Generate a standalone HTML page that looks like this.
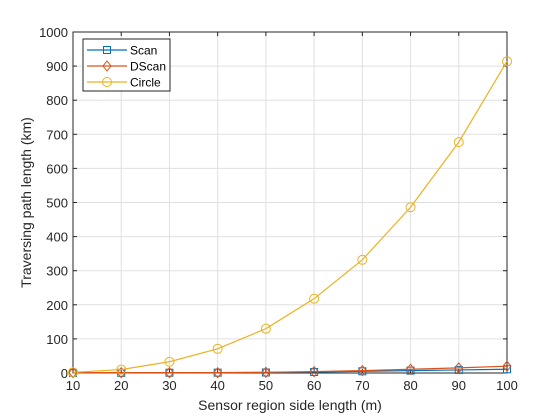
<!DOCTYPE html>
<html><head><meta charset="utf-8"><style>body{margin:0;background:#fff}svg{display:block;font-family:"Liberation Sans",sans-serif}</style></head>
<body>
<svg id="c" width="560" height="420"></svg>
<script>
const xCats=[10,20,30,40,50,60,70,80,90,100];
const scanVals=[0.3,0.5,0.8,1,1.5,3,5,7,9,11];
const dscanVals=[1,1,1,1,2,4,7,11,15,20];
const circleVals=[2,10,33,71,130,218,332,486,677,914];
const yTicks=[0,100,200,300,400,500,600,700,800,900,1000];
const L=73,R=507,T=32,B=373;
const sx=v=>L+(v-10)/90*(R-L), sy=v=>B-v/1000*(B-T);
const svg=document.getElementById('c');const NS='http://www.w3.org/2000/svg';
function mk(t,a,p){const e=document.createElementNS(NS,t);for(const k in a)e.setAttribute(k,a[k]);(p||svg).appendChild(e);return e;}
mk('rect',{x:L,y:T,width:R-L,height:B-T,fill:'#fff'});
xCats.forEach(v=>{const l=mk('line',{x1:sx(v),x2:sx(v),y1:T,y2:B,stroke:'#e0e0e0'});
const t=mk('text',{x:sx(v),y:B+17,'text-anchor':'middle','font-size':13,fill:'#262626'});t.textContent=v;
mk('line',{x1:sx(v),x2:sx(v),y1:B,y2:B-4,stroke:'#262626'});mk('line',{x1:sx(v),x2:sx(v),y1:T,y2:T+4,stroke:'#262626'});});
yTicks.forEach(v=>{const l=mk('line',{x1:L,x2:R,y1:sy(v),y2:sy(v),stroke:'#e0e0e0'});
const t=mk('text',{x:L-5,y:sy(v)+5,'text-anchor':'end','font-size':13,fill:'#262626'});t.textContent=v;
mk('line',{x1:L,x2:L+4,y1:sy(v),y2:sy(v),stroke:'#262626'});mk('line',{x1:R,x2:R-4,y1:sy(v),y2:sy(v),stroke:'#262626'});});
const box=mk('rect',{x:L,y:T,width:R-L,height:B-T,fill:'none',stroke:'#262626'});
function marker(type,x,y,c,g){if(type==='s')return mk('rect',{x:x-3.5,y:y-3.5,width:7,height:7,fill:'none',stroke:c},g);
if(type==='d')return mk('polygon',{points:`${x},${y-5} ${x+4},${y} ${x},${y+5} ${x-4},${y}`,fill:'none',stroke:c},g);
return mk('circle',{cx:x,cy:y,r:4.5,fill:'none',stroke:c},g);}
const series=[['scan',scanVals,'#0072bd','s'],['dscan',dscanVals,'#d95319','d'],['circle',circleVals,'#edb120','o']];
series.forEach(([n,vals,c,m])=>{const g=mk('g',{});
mk('polyline',{points:vals.map((v,i)=>sx(xCats[i])+','+sy(v)).join(' '),fill:'none',stroke:c,'stroke-width':1.2},g);
vals.forEach((v,i)=>{const e=marker(m,sx(xCats[i]),sy(v),c,g);});});
const lg=mk('g',{});
mk('rect',{x:83,y:39,width:87,height:52,fill:'#fff',stroke:'#262626'},lg);
[['Scan','#0072bd','s'],['DScan','#d95319','d'],['Circle','#edb120','o']].forEach(([t,c,m],i)=>{const y=50+i*16;
mk('line',{x1:87,x2:127,y1:y,y2:y,stroke:c,'stroke-width':1.2},lg);marker(m,107,y,c,lg);
const tx=mk('text',{x:130,y:y+4.5,'font-size':12,fill:'#000'},lg);tx.textContent=t;});
const xt=mk('text',{x:(L+R)/2,y:410,'text-anchor':'middle','font-size':14,fill:'#262626'});xt.textContent='Sensor region side length (m)';
const yt=mk('text',{x:0,y:0,'text-anchor':'middle','font-size':14,fill:'#262626',transform:`translate(31,${(T+B)/2}) rotate(-90)`});yt.textContent='Traversing path length (km)';
</script>
</body></html>
